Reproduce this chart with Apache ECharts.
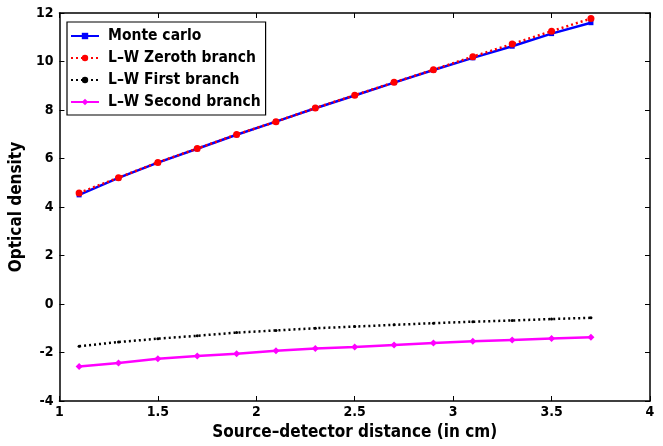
<!DOCTYPE html>
<html>
<head>
<meta charset="UTF-8">
<title>Optical density</title>
<script src="https://cdn.jsdelivr.net/npm/echarts@6/dist/echarts.min.js"></script>
<style>
  body { margin: 0; background: #fff; }
  #chart { width: 663px; height: 446px; }
</style>
</head>
<body>
<div id="chart"></div>
<script>
var distances = [1.1, 1.3, 1.5, 1.7, 1.9, 2.1, 2.3, 2.5, 2.7, 2.9, 3.1, 3.3, 3.5, 3.7];
var monteCarlo = [4.5, 5.2, 5.83, 6.4, 6.98, 7.52, 8.07, 8.6, 9.13, 9.65, 10.15, 10.63, 11.15, 11.6];
var zeroth = [4.58, 5.21, 5.84, 6.41, 6.99, 7.52, 8.08, 8.61, 9.14, 9.66, 10.2, 10.72, 11.25, 11.77];
var first = [-1.74, -1.57, -1.43, -1.31, -1.18, -1.09, -1.0, -0.93, -0.86, -0.79, -0.73, -0.68, -0.62, -0.57];
var second = [-2.58, -2.43, -2.26, -2.14, -2.05, -1.93, -1.83, -1.77, -1.69, -1.61, -1.54, -1.48, -1.42, -1.37];

function pairs(ys) {
  return distances.map(function (x, i) { return [x, ys[i]]; });
}

var font = '"DejaVu Sans Condensed", "Liberation Sans Narrow", "Liberation Sans", sans-serif';
var axisText = { color: '#000', fontWeight: 'bold', fontSize: 14, fontFamily: font };

var chart = echarts.init(document.getElementById('chart'));
chart.setOption({
  animation: false,
  grid: { left: 44, right: 13, top: 13, bottom: 43 },
  legend: {
    orient: 'vertical',
    left: 67, top: 22,
    padding: [6, 5, 5, 3],
    itemGap: 6,
    itemWidth: 28,
    itemHeight: 8,
    borderColor: '#000',
    borderWidth: 1.2,
    backgroundColor: '#fff',
    textStyle: { color: '#000', fontWeight: 'bold', fontSize: 15.5, fontFamily: font, padding: [0, 0, 0, 4] }
  },
  xAxis: [{
    type: 'value', min: 1, max: 4, interval: 0.5,
    name: 'Source\u2013detector distance (in cm)',
    nameLocation: 'middle', nameGap: 23,
    nameTextStyle: { color: '#000', fontWeight: 'bold', fontSize: 17, fontFamily: font },
    axisLine: { onZero: false, lineStyle: { color: '#000', width: 1.5 } },
    axisTick: { inside: true, length: 5, lineStyle: { color: '#000' } },
    axisLabel: Object.assign({ margin: 4 }, axisText),
    splitLine: { show: false }
  }, {
    type: 'value', min: 1, max: 4, interval: 0.5, position: 'top',
    axisLine: { onZero: false, lineStyle: { color: '#000', width: 1.5 } },
    axisTick: { inside: true, length: 5, lineStyle: { color: '#000' } },
    axisLabel: { show: false }, splitLine: { show: false }
  }],
  yAxis: [{
    type: 'value', min: -4, max: 12, interval: 2,
    name: 'Optical density',
    nameLocation: 'middle', nameGap: 26,
    nameTextStyle: { color: '#000', fontWeight: 'bold', fontSize: 17, fontFamily: font },
    axisLine: { show: true, onZero: false, lineStyle: { color: '#000', width: 1.5 } },
    axisTick: { show: true, inside: true, length: 5, lineStyle: { color: '#000' } },
    axisLabel: Object.assign({ margin: 6 }, axisText),
    splitLine: { show: false }
  }, {
    type: 'value', min: -4, max: 12, interval: 2, position: 'right',
    axisLine: { show: true, onZero: false, lineStyle: { color: '#000', width: 1.5 } },
    axisTick: { show: true, inside: true, length: 5, lineStyle: { color: '#000' } },
    axisLabel: { show: false }, splitLine: { show: false }
  }],
  series: [{
    name: 'Monte carlo', type: 'line', data: pairs(monteCarlo),
    symbol: 'rect', symbolSize: 5,
    lineStyle: { color: '#0000ff', width: 2.5 },
    itemStyle: { color: '#0000ff' }
  }, {
    name: 'L\u2013W Zeroth branch', type: 'line', data: pairs(zeroth),
    symbol: 'circle', symbolSize: 7,
    lineStyle: { color: '#ff0000', width: 2.5, type: [2, 3] },
    itemStyle: { color: '#ff0000' }
  }, {
    name: 'L\u2013W First branch', type: 'line', data: pairs(first),
    symbol: 'circle', symbolSize: 3,
    lineStyle: { color: '#000', width: 2.5, type: [2, 3] },
    itemStyle: { color: '#000' }
  }, {
    name: 'L\u2013W Second branch', type: 'line', data: pairs(second),
    symbol: 'diamond', symbolSize: 7,
    lineStyle: { color: '#ff00ff', width: 2.5 },
    itemStyle: { color: '#ff00ff' }
  }]
});
</script>
</body>
</html>
